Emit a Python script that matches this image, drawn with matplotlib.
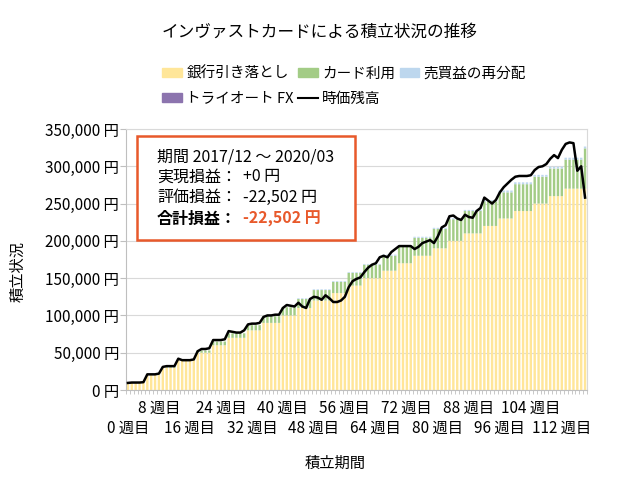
import matplotlib
matplotlib.use("Agg")
import matplotlib.pyplot as plt
from matplotlib.patches import Rectangle, Patch
from matplotlib.lines import Line2D
from matplotlib.ticker import FuncFormatter
import numpy as np

plt.rcParams['font.family'] = ['Noto Sans CJK JP', 'DejaVu Sans']

# 週ごとの値 (単位: 千円)
weeks = list(range(119))
bank = [10, 10, 10, 10, 10,
        20, 20, 20, 20,
        30, 30, 30, 30,
        40, 40, 40, 40, 40,
        50, 50, 50, 50,
        60, 60, 60, 60,
        70, 70, 70, 70, 70,
        80, 80, 80, 80,
        90, 90, 90, 90, 90,
        100, 100, 100, 100,
        110, 110, 110, 110,
        120, 120, 120, 120, 120,
        130, 130, 130, 130,
        140, 140, 140, 140,
        150, 150, 150, 150, 150,
        160, 160, 160, 160,
        170, 170, 170, 170,
        180, 180, 180, 180, 180,
        190, 190, 190, 190,
        200, 200, 200, 200,
        210, 210, 210, 210, 210,
        220, 220, 220, 220,
        230, 230, 230, 230,
        240, 240, 240, 240, 240,
        250, 250, 250, 250,
        260, 260, 260, 260,
        270, 270, 270, 270, 270, 270]
card = [0, 0, 0, 0, 0,
        0.5, 0.5, 0.5, 0.5,
        1, 1, 1, 1,
        1.5, 1.5, 1.5, 1.5, 1.5,
        3, 3, 3, 3,
        5, 5, 5, 5,
        6, 6, 6, 6, 6,
        7, 7, 7, 7,
        9, 9, 9, 9, 9,
        11, 11, 11, 11,
        12, 12, 12, 12,
        14, 14, 14, 14, 14,
        15, 15, 15, 15,
        17, 17, 17, 17,
        18, 18, 18, 18, 18,
        20, 20, 20, 20,
        22, 22, 22, 22,
        24, 24, 24, 24, 24,
        26, 26, 26, 26,
        29, 29, 29, 29,
        30, 30, 30, 30, 30,
        33, 33, 33, 33,
        35, 35, 35, 35,
        36, 36, 36, 36, 36,
        36, 36, 36, 36,
        37, 37, 37, 37,
        39, 39, 39, 39, 39, 54]
reinvest = [0] * 44 + [1] * 22 + [1.5] * 30 + [2.5] * 23
fx = [0] * 119
value = [9.5, 10, 10, 10, 10.5,
         21, 21, 21, 22,
         31, 32, 32, 32,
         42, 40, 40, 40, 41,
         52, 55, 55, 56,
         67, 67, 67, 68,
         79, 78, 77, 77, 80,
         88, 89, 89, 90,
         98, 100, 100, 101, 101,
         110, 114, 113, 112, 117, 112, 110, 122,
         125, 124, 121, 127, 123, 118, 118, 120, 125,
         138, 146, 149, 151, 158, 164, 168, 170, 178,
         180, 178, 185, 189, 193, 193, 193, 193,
         189, 192, 197, 199, 201, 197, 206, 218, 221,
         233, 234, 230, 228, 235, 232, 231, 240, 244,
         258, 254, 250, 255, 265, 272, 277, 282,
         286, 287, 287, 287, 288, 295, 299, 300, 303,
         310, 315, 311, 322, 330, 332, 331, 294, 300, 258]
tick_weeks = list(range(0, 119, 8))

c_bank = '#FFE699'
c_card = '#A3CC86'
c_re = '#BDD7EE'
c_fx = '#8C74AE'
c_red = '#E8592B'
fs = 11

b = np.array(bank) * 1000
c = np.array(card) * 1000
r = np.array(reinvest) * 1000
f = np.array(fx) * 1000
v = np.array(value) * 1000

fig = plt.figure(figsize=(6.4, 4.8), dpi=100)
ax = fig.add_axes([126 / 640, 1 - 390 / 480, (587 - 126) / 640, (390 - 129) / 480])

w = 0.62
for vals, bot, col in [(b, 0, c_bank), (c, b, c_card), (r, b + c, c_re), (f, b + c + r, c_fx)]:
    bars = ax.bar(weeks, vals, width=w, bottom=bot, color=col, linewidth=0, zorder=2)
    for p in bars:
        p.set_snap(False)
ax.plot(weeks, v, color='black', lw=1.8, zorder=3)

ax.set_xlim(-0.5, 118.5)
ax.set_ylim(0, 350000)
ax.set_yticks(range(0, 350001, 50000))
ax.yaxis.set_major_formatter(FuncFormatter(lambda y, p: f'{int(y):,} 円'))
ax.yaxis.grid(True, color='#D9D9D9', lw=0.8, zorder=0)
ax.set_axisbelow(True)

# x軸ラベルは2段に互い違い
ax.set_xticks(tick_weeks)
ax.set_xticklabels([f'{t} 週目' if t % 16 == 8 else '' for t in tick_weeks])
for t in tick_weeks:
    if t % 16 == 0:
        ax.text(t, -(428 - 390) / 261, f'{t} 週目', transform=ax.get_xaxis_transform(),
                ha='center', va='center', fontsize=fs)
ax.set_xticks(np.arange(-0.5, 119, 1), minor=True)
ax.tick_params(axis='x', which='major', length=0, pad=7, labelsize=fs)
ax.tick_params(axis='x', which='minor', length=3, color='#BFBFBF')
ax.tick_params(axis='y', length=4, color='#BFBFBF', labelsize=fs, pad=1)

for s in ['left', 'bottom']:
    ax.spines[s].set_color('#BFBFBF')
for s in ['top', 'right']:
    ax.spines[s].set_color('#D9D9D9')

# 凡例
handles = [Patch(color=c_bank, label='銀行引き落とし'),
           Patch(color=c_fx, label='トライオート FX'),
           Patch(color=c_card, label='カード利用'),
           Line2D([], [], color='black', lw=1.5, label='時価残高'),
           Patch(color=c_re, label='売買益の再分配')]
fig.legend(handles=handles, loc='upper left', bbox_to_anchor=(149 / 640, 1 - 53 / 480),
           ncol=3, frameon=False, fontsize=10.5, handlelength=1.35, handleheight=0.6,
           handletextpad=0.3, columnspacing=0.3, labelspacing=0.75)

fig.text(0.5, 1 - 32 / 480, 'インヴァストカードによる積立状況の推移', ha='center', va='center', fontsize=12)
fig.text(18 / 640, 1 - 272 / 480, '積立状況', rotation=90, ha='center', va='center', fontsize=fs)
fig.text(335 / 640, 1 - 463 / 480, '積立期間', ha='center', va='center', fontsize=fs)

# 損益ボックス
fig.add_artist(Rectangle((137 / 640, 1 - 240 / 480), (355 - 137) / 640, (240 - 136) / 480,
                         transform=fig.transFigure, facecolor='white', edgecolor=c_red, lw=1.8, zorder=5))
fb = 11.5
x0 = 157 / 640
x1 = 243 / 640
fig.text(x0, 1 - 157 / 480, '期間 2017/12 ～ 2020/03', va='center', fontsize=fb, zorder=6)
fig.text(x0, 1 - 177 / 480, '実現損益：', va='center', fontsize=fb, zorder=6)
fig.text(x1, 1 - 177 / 480, '+0 円', va='center', fontsize=fb, zorder=6)
fig.text(x0, 1 - 197 / 480, '評価損益：', va='center', fontsize=fb, zorder=6)
fig.text(x1, 1 - 197 / 480, '-22,502 円', va='center', fontsize=fb, zorder=6)
fig.text(x0, 1 - 219 / 480, '合計損益：', va='center', fontsize=fb, fontweight='bold', zorder=6)
fig.text(x1, 1 - 219 / 480, '-22,502 円', va='center', fontsize=fb, fontweight='bold', color=c_red, zorder=6)

fig.savefig('out.png', dpi=100)
